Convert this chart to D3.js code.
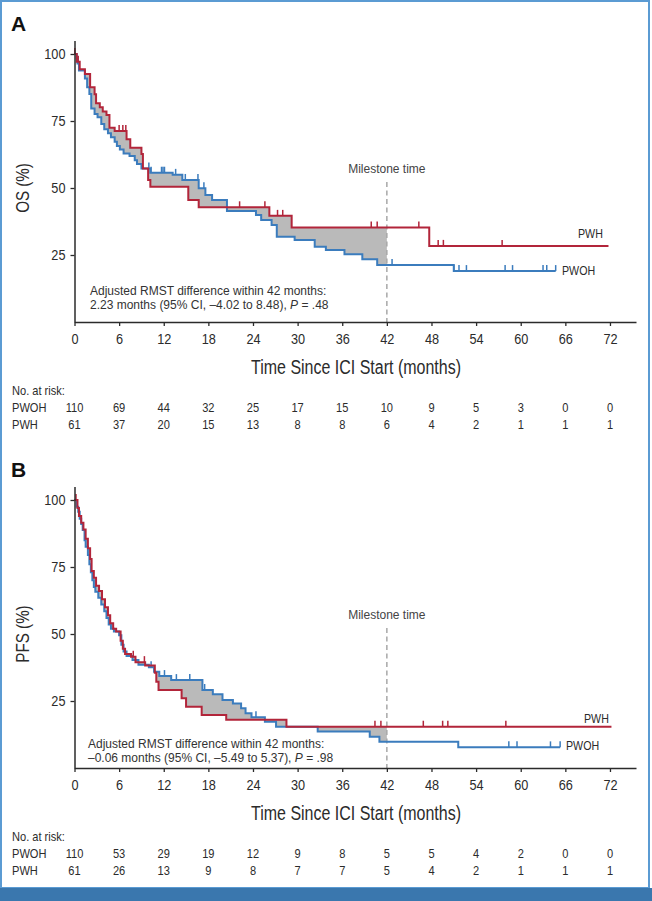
<!DOCTYPE html>
<html>
<head>
<meta charset="utf-8">
<script src="https://cdn.jsdelivr.net/npm/d3@7"></script>
<style>
  body { margin: 0; background: #fff; }
  svg text { font-family: "Liberation Sans", Arial, sans-serif; }
</style>
</head>
<body>
<div id="chart"></div>
<script>
// shared axis values
var xTicks = [0, 6, 12, 18, 24, 30, 36, 42, 48, 54, 60, 66, 72];
var yTicks = [25, 50, 75, 100];
var milestone = 42;

// Panel A - overall survival, step times (months) and survival (%)
var osPwhTime = [0, 0.3, 0.7, 1.4, 2.1, 2.7, 2.9, 3.4, 3.8, 4.3, 4.7, 5.4, 7.0, 7.5, 9.0, 9.2, 9.9, 10.2, 15.3, 16.7, 26.2, 29.2, 47.7];
var osPwhSurv = [100, 97.1, 94.3, 92.5, 87.6, 85.0, 81.6, 80.1, 78.5, 77.2, 72.5, 71.3, 68.2, 65.0, 62.7, 57.3, 53.0, 50.5, 45.5, 42.8, 39.6, 35.3, 28.4];
var osPwhEnd = 71.8;
var osPwhCensor = [0.05, 0.5, 6.0, 6.5, 6.9, 22.2, 25.6, 27.3, 28.0, 39.9, 40.7, 46.3, 48.9, 49.6, 57.5];

var osPwohTime = [0, 0.3, 0.4, 0.6, 1.4, 1.7, 2.0, 2.25, 2.7, 3.1, 3.6, 4.0, 4.5, 4.9, 5.4, 5.7, 6.1, 6.6, 7.4, 8.1, 8.4, 9.0, 10.2, 13.2, 14.5, 16.7, 17.6, 18.5, 20.5, 24.4, 25.1, 26.5, 27.2, 29.6, 32.3, 33.8, 36.3, 38.7, 40.7, 51.0];
var osPwohSurv = [100, 98.4, 96.5, 93.8, 90.9, 87.6, 85.1, 79.7, 77.6, 76.4, 73.9, 71.9, 70.4, 68.9, 67.3, 65.7, 64.4, 62.9, 61.9, 60.4, 59.0, 57.3, 55.7, 54.9, 53.0, 49.9, 47.4, 45.5, 41.4, 39.9, 38.1, 36.2, 31.8, 30.6, 28.1, 26.9, 25.3, 23.4, 21.3, 19.0];
var osPwohEnd = 64.7;
var osPwohCensor = [10.0, 10.3, 11.7, 11.9, 12.1, 13.6, 14.9, 16.6, 17.4, 42.7, 51.0, 51.7, 52.7, 57.9, 58.9, 63.0, 63.5, 64.7];

var osRiskPwoh = [110, 69, 44, 32, 25, 17, 15, 10, 9, 5, 3, 0, 0];
var osRiskPwh = [61, 37, 20, 15, 13, 8, 8, 6, 4, 2, 1, 1, 1];

// Panel B - progression-free survival
var pfsPwhTime = [0, 0.4, 0.6, 0.9, 1.2, 1.5, 1.8, 2.1, 2.3, 2.6, 2.9, 3.3, 3.7, 4.1, 4.5, 4.8, 5.2, 5.6, 6.2, 6.5, 6.8, 7.6, 8.2, 9.5, 10.8, 11.0, 11.3, 14.4, 15.0, 17.1, 20.4, 28.5];
var pfsPwhSurv = [100, 97, 94, 91.5, 89, 85.5, 82, 78, 73.5, 71, 68, 66, 63, 60, 57, 54, 52, 50.9, 47.5, 44.5, 42.5, 41.5, 39.5, 38.2, 35.5, 32.2, 29.1, 26.0, 22.9, 19.8, 18.0, 15.4];
var pfsPwhEnd = 72.2;
var pfsPwhCensor = [0.2, 7.9, 9.4, 40.4, 41.2, 46.9, 49.5, 50.2, 58.0];

var pfsPwohTime = [0, 0.3, 0.5, 0.7, 0.9, 1.1, 1.35, 1.5, 1.8, 2.0, 2.2, 2.4, 2.6, 2.8, 3.2, 3.6, 4.0, 4.3, 4.6, 4.9, 5.3, 6.0, 6.3, 6.6, 7.0, 7.8, 8.6, 10.0, 10.7, 11.4, 13.0, 17.2, 18.6, 19.9, 21.3, 22.4, 23.0, 23.8, 25.6, 27.1, 32.7, 39.7, 41.0, 51.6];
var pfsPwohSurv = [100, 97.5, 95.6, 93, 91, 88.8, 85, 82.6, 79.5, 76, 73, 70.1, 67.5, 65.8, 63.5, 61, 58.5, 56, 53.5, 52, 50.9, 49.5, 46, 43.5, 41.8, 40.3, 38.5, 37.6, 35.9, 34.3, 32.8, 29.1, 27.5, 25.4, 24.1, 22.3, 20.4, 18.9, 17.3, 15.4, 13.6, 11.7, 9.8, 7.7];
var pfsPwohEnd = 65.3;
var pfsPwohCensor = [10.3, 12.1, 13.7, 15.5, 17.5, 24.4, 58.4, 59.5, 64.0, 65.3];

var pfsRiskPwoh = [110, 53, 29, 19, 12, 9, 8, 5, 5, 4, 2, 0, 0];
var pfsRiskPwh = [61, 26, 13, 9, 8, 7, 7, 5, 4, 2, 1, 1, 1];

var red = "#b2253a", blue = "#3b7cbd", shade = "#bababa", ink = "#2b2b2b";
var width = 652, height = 901;

var svg = d3.select("#chart").append("svg")
    .attr("width", width)
    .attr("height", height);

// frame
svg.append("rect").attr("x", 1).attr("y", 1).attr("width", 648).attr("height", 887)
    .style("fill", "none").style("stroke", "#5b9bd3").style("stroke-width", 2);
svg.append("rect").attr("x", 0).attr("y", 888).attr("width", width).attr("height", 13)
    .style("fill", "#3a77ae");

// step function value at time t
function valueAt(times, surv, t) {
    var i = d3.bisectRight(times, t) - 1;
    return surv[Math.max(i, 0)];
}

// no condensed font installed, so squeeze the glyphs horizontally
function narrow(sel) {
    sel.each(function() {
        var w = this.getComputedTextLength();
        d3.select(this).attr("textLength", w * 0.82).attr("lengthAdjust", "spacingAndGlyphs");
    });
}

function drawPanel(p) {
    var g = svg.append("g").attr("transform", "translate(0," + p.dy + ")");

    var x = d3.scaleLinear().domain([0, 75.5]).range([74.5, 636]);
    var y = d3.scaleLinear().domain([0, 105]).range([322, 40.6]);

    g.append("text").attr("x", 11).attr("y", 31)
        .style("font-size", "21px").style("font-weight", "bold").style("fill", "#111")
        .text(p.letter);

    // shaded difference up to milestone
    var breaks = Array.from(new Set(p.redT.concat(p.blueT).filter(function(t) { return t < milestone; })))
        .sort(d3.ascending);
    breaks.push(milestone);
    var area = d3.area()
        .curve(d3.curveStepAfter)
        .x(function(t) { return x(t); })
        .y0(function(t) { return y(valueAt(p.redT, p.redS, t)); })
        .y1(function(t) { return y(valueAt(p.blueT, p.blueS, t)); });
    g.append("path").attr("d", area(breaks)).style("fill", shade).style("stroke", "none");

    // milestone line
    g.append("line").attr("x1", x(milestone)).attr("x2", x(milestone))
        .attr("y1", 182).attr("y2", 322)
        .style("stroke", "#a8a8a8").style("stroke-width", 1.5).style("stroke-dasharray", "5,3.5");
    g.append("text").attr("x", x(milestone)).attr("y", 173)
        .attr("text-anchor", "middle").style("font-size", "12px").style("fill", "#444")
        .text("Milestone time");

    var line = d3.line().curve(d3.curveStepAfter)
        .x(function(d) { return x(d[0]); })
        .y(function(d) { return y(d[1]); });

    [[p.blueT, p.blueS, p.blueEnd, p.blueC, blue], [p.redT, p.redS, p.redEnd, p.redC, red]].forEach(function(s) {
        var pts = s[0].map(function(t, i) { return [t, s[1][i]]; });
        pts.push([s[2], s[1][s[1].length - 1]]);
        g.append("path").attr("d", line(pts))
            .style("fill", "none").style("stroke", s[4]).style("stroke-width", 2);
        g.append("g").selectAll("line").data(s[3]).enter().append("line")
            .attr("x1", function(t) { return x(t); })
            .attr("x2", function(t) { return x(t); })
            .attr("y1", function(t) { return y(valueAt(s[0], s[1], t)); })
            .attr("y2", function(t) { return y(valueAt(s[0], s[1], t)) - 6; })
            .style("stroke", s[4]).style("stroke-width", 1.5);
    });

    // end labels
    g.append("text").attr("x", p.redLab[0]).attr("y", p.redLab[1])
        .style("font-size", "13px").style("fill", ink).text("PWH").call(narrow);
    g.append("text").attr("x", p.blueLab[0]).attr("y", p.blueLab[1])
        .style("font-size", "13px").style("fill", ink).text("PWOH").call(narrow);

    // axes
    var xAxis = g.append("g").attr("transform", "translate(0,322)")
        .call(d3.axisBottom(x).tickValues(xTicks).tickSize(4).tickSizeOuter(0).tickPadding(7));
    var yAxis = g.append("g").attr("transform", "translate(74.5,0)")
        .call(d3.axisLeft(y).tickValues(yTicks).tickSize(4).tickSizeOuter(0).tickPadding(5));
    [xAxis, yAxis].forEach(function(a) {
        a.attr("font-family", null);
        a.select(".domain").style("stroke", ink).style("stroke-width", 1.5);
        a.selectAll(".tick line").style("stroke", ink).style("stroke-width", 1.3);
        a.selectAll(".tick text").style("font-size", "15.5px").style("fill", ink).call(narrow);
    });

    g.append("text")
        .attr("transform", "translate(29," + y(50) + ") rotate(-90)")
        .attr("text-anchor", "middle").style("font-size", "18.5px").style("fill", ink)
        .text(p.yLabel).call(narrow);
    g.append("text").attr("x", 356).attr("y", 374)
        .attr("text-anchor", "middle").style("font-size", "19.5px").style("fill", ink)
        .text("Time Since ICI Start (months)").call(narrow);

    // RMST note
    var note = g.append("text").style("font-size", "12px").style("fill", "#333");
    note.append("tspan").attr("x", p.noteX).attr("y", p.noteY).text("Adjusted RMST difference within 42 months:");
    var l2 = note.append("tspan").attr("x", p.noteX).attr("y", p.noteY + 14).text(p.note2);
    l2.append("tspan").style("font-style", "italic").text(" P");
    l2.append("tspan").text(" = " + p.pval);

    // numbers at risk
    var rt = g.append("g").attr("class", "risk").style("font-size", "13.5px").style("fill", ink);
    rt.append("text").attr("x", 12).attr("y", 394.5).text("No. at risk:").call(narrow);
    rt.append("text").attr("x", 12).attr("y", 411.5).text("PWOH").call(narrow);
    rt.append("text").attr("x", 12).attr("y", 428.5).text("PWH").call(narrow);
    [[p.riskPwoh, 411.5], [p.riskPwh, 428.5]].forEach(function(r) {
        rt.append("g").selectAll("text").data(r[0]).enter().append("text")
            .attr("x", function(d, i) { return x(xTicks[i]); })
            .attr("y", r[1])
            .attr("text-anchor", "middle")
            .text(function(d) { return d; })
            .call(narrow);
    });
}

drawPanel({
    dy: 0, letter: "A", yLabel: "OS (%)",
    redT: osPwhTime, redS: osPwhSurv, redEnd: osPwhEnd, redC: osPwhCensor,
    blueT: osPwohTime, blueS: osPwohSurv, blueEnd: osPwohEnd, blueC: osPwohCensor,
    redLab: [578, 238], blueLab: [562, 275],
    noteX: 90, noteY: 295, note2: "2.23 months (95% CI, \u20134.02 to 8.48),", pval: ".48",
    riskPwoh: osRiskPwoh, riskPwh: osRiskPwh
});

drawPanel({
    dy: 446, letter: "B", yLabel: "PFS (%)",
    redT: pfsPwhTime, redS: pfsPwhSurv, redEnd: pfsPwhEnd, redC: pfsPwhCensor,
    blueT: pfsPwohTime, blueS: pfsPwohSurv, blueEnd: pfsPwohEnd, blueC: pfsPwohCensor,
    redLab: [584, 277], blueLab: [566, 304],
    noteX: 88, noteY: 302, note2: "\u20130.06 months (95% CI, \u20135.49 to 5.37),", pval: ".98",
    riskPwoh: pfsRiskPwoh, riskPwh: pfsRiskPwh
});
</script>
</body>
</html>
